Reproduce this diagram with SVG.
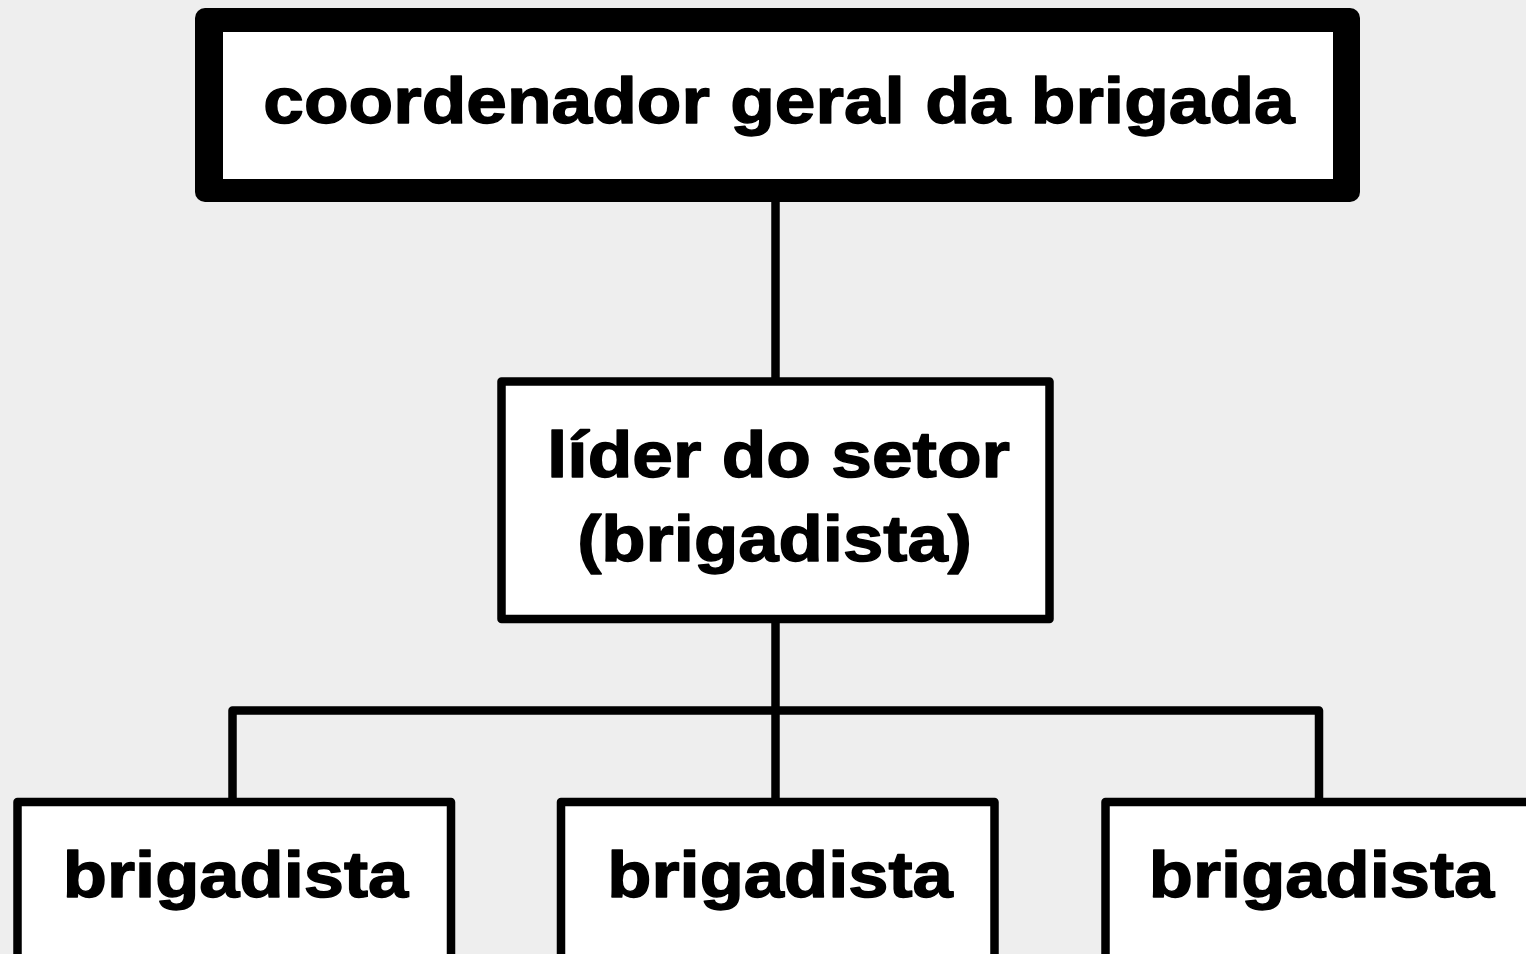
<svg xmlns="http://www.w3.org/2000/svg" width="1526" height="954" viewBox="0 0 1526 954">
<style>
.bg{fill:#eeeeee}
.box{fill:#ffffff;stroke:#000000;stroke-width:8.5;stroke-linejoin:round}
.conn{fill:none;stroke:#000000;stroke-width:8.5;stroke-linejoin:round}
.lbl{font-family:"Liberation Sans",Arial,sans-serif;font-weight:bold;font-size:64px;fill:#000000;stroke:#000000;stroke-width:1.4;stroke-linejoin:round;text-anchor:middle}
</style>
<rect class="bg" x="0" y="0" width="1526" height="954"/>
<g id="connectors">
<path class="conn" d="M775.5 202 V381.5"/>
<path class="conn" d="M775.5 619 V802"/>
<path class="conn" d="M232.5 802 V710.5 H1319 V802"/>
</g>
<g id="coordenador">
<rect x="195" y="8" width="1165" height="194" rx="10" fill="#000000"/>
<rect x="223" y="32" width="1110" height="147" fill="#ffffff"/>
<text class="lbl" transform="translate(779 123) scale(1.142 1)" x="0" y="0">coordenador geral da brigada</text>
</g>
<g id="lider">
<rect class="box" x="501.5" y="381.5" width="548" height="237.5"/>
<text class="lbl" transform="translate(778.5 477) scale(1.142 1)" x="0" y="0">líder do setor</text>
<text class="lbl" transform="translate(774.5 561) scale(1.133 1)" x="0" y="0">(brigadista)</text>
</g>
<g id="brigadista1">
<rect class="box" x="17.5" y="802" width="433.5" height="180"/>
<text class="lbl" transform="translate(235.5 897) scale(1.13 1)" x="0" y="0">brigadista</text>
</g>
<g id="brigadista2">
<rect class="box" x="561" y="802" width="433.5" height="180"/>
<text class="lbl" transform="translate(780 897) scale(1.13 1)" x="0" y="0">brigadista</text>
</g>
<g id="brigadista3">
<rect class="box" x="1105.5" y="802" width="433.5" height="180"/>
<text class="lbl" transform="translate(1321.5 897) scale(1.13 1)" x="0" y="0">brigadista</text>
</g>
</svg>
